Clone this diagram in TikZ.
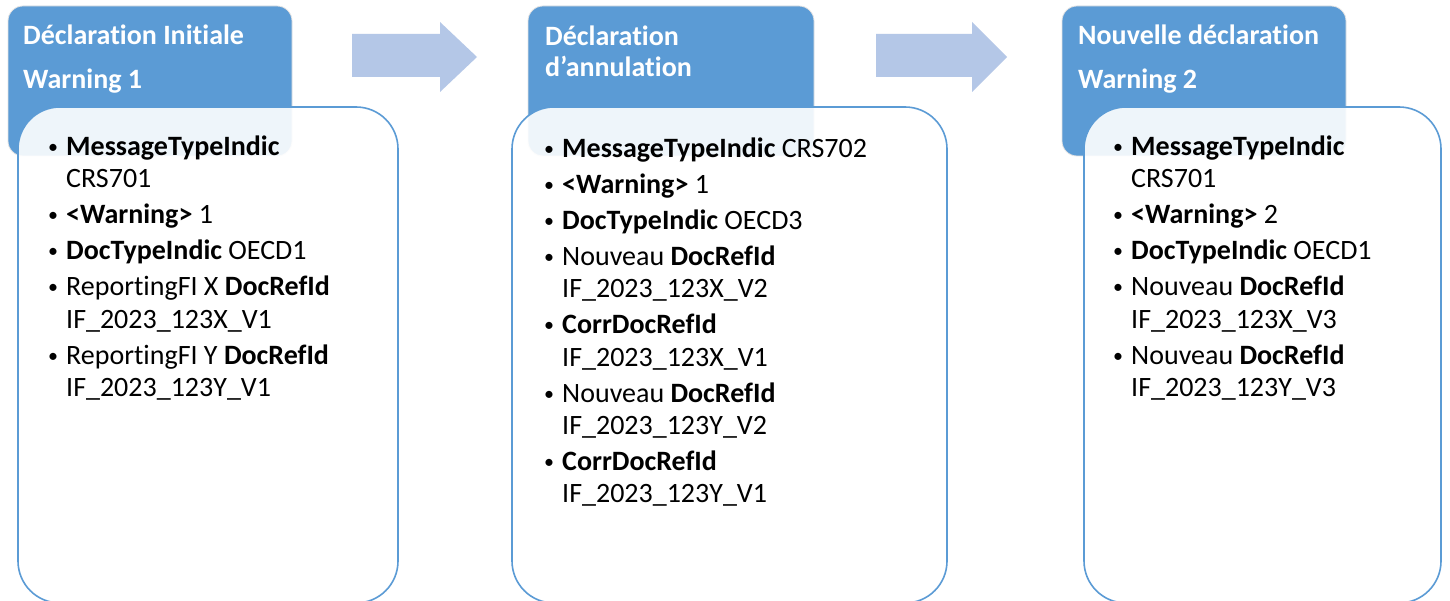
\documentclass[tikz,border=0pt]{standalone}
\usepackage{fontspec}
\setmainfont{Carlito}[Ligatures={NoCommon}]
\definecolor{hdr}{HTML}{5B9BD5}
\definecolor{arr}{HTML}{B4C7E7}
\definecolor{bord}{HTML}{5B9BD5}
\newcommand{\mybul}[4]{%
  \node[bul] (#1b) at (#2-13,#3) {\textbullet};
  \node[txt] (#1) at (#2,#3) {#4};}
\newcommand{\mycont}[4]{%
  \node[txt] (#1) at (#2,#3) {#4};}
\begin{document}
\begin{tikzpicture}[x=1pt,y=-1pt,
  hdrbox/.style={draw=gray!22, line width=0.8pt, fill=hdr, rounded corners=15pt,
    inner sep=0pt, outer sep=0pt, anchor=north west},
  bodybox/.style={draw=bord, line width=1.6pt, fill=white, fill opacity=0.9,
    rounded corners=42pt, inner sep=0pt, outer sep=0pt, anchor=north west},
  txt/.style={anchor=base west, inner sep=0pt, font=\fontsize{28}{32}\selectfont, text=black},
  bul/.style={anchor=base, inner sep=0pt, yshift=2pt, font=\fontsize{20}{24}\selectfont, text=black},
  hdrtxt/.style={anchor=base west, inner sep=0pt, font=\fontsize{28}{32}\selectfont\bfseries, text=white},
  arrowshape/.style={fill=arr}
]
\useasboundingbox (0,0) rectangle (1450,601);
\fill[white] (0,0) rectangle (1450,601);

% headers
\node[hdrbox, minimum width=284pt, minimum height=150pt] (h1) at (8,6) {};
\node[hdrbox, minimum width=286pt, minimum height=150pt] (h2) at (528,6) {};
\node[hdrbox, minimum width=284pt, minimum height=150pt] (h3) at (1062,6) {};

\node[hdrtxt] (h1a) at (23,45) {Déclaration Initiale};
\node[hdrtxt] (h1b) at (23,89) {Warning 1};
\node[hdrtxt] (h2a) at (545,46) {Déclaration};
\node[hdrtxt] (h2b) at (545,77) {d’annulation};
\node[hdrtxt] (h3a) at (1078,45) {Nouvelle déclaration};
\node[hdrtxt] (h3b) at (1078,89) {Warning 2};

% bodies
\node[bodybox, minimum width=380pt, minimum height=496pt] (b1) at (18,107) {};
\node[bodybox, minimum width=435pt, minimum height=496pt] (b2) at (512,107) {};
\node[bodybox, minimum width=357pt, minimum height=496pt] (b3) at (1084,107) {};

% arrows
\coordinate (a1s) at (352,34);
\coordinate (a2s) at (876,34);
\fill[arrowshape] (a1s) -- (440,34) -- (440,22) -- (477,57) -- (440,92) -- (440,77) -- (352,77) -- cycle;
\fill[arrowshape] (a2s) -- (972,34) -- (972,22) -- (1007,57) -- (972,92) -- (972,77) -- (876,77) -- cycle;

% body 1
\mybul{t1a}{66}{156}{\textbf{MessageTypeIndic}}
\mycont{t1a2}{66}{188}{CRS701}
\mybul{t1b}{66}{224}{\textbf{<Warning>} 1}
\mybul{t1c}{66}{260}{\textbf{DocTypeIndic} OECD1}
\mybul{t1d}{66}{296}{ReportingFI X \textbf{DocRefId}}
\mycont{t1d2}{66}{328}{IF\_2023\_123X\_V1}
\mybul{t1e}{66}{364}{ReportingFI Y \textbf{DocRefId}}
\mycont{t1e2}{66}{396}{IF\_2023\_123Y\_V1}

% body 2
\mybul{t2a}{562}{158}{\textbf{MessageTypeIndic} CRS702}
\mybul{t2b}{562}{194}{\textbf{<Warning>} 1}
\mybul{t2c}{562}{230}{\textbf{DocTypeIndic} OECD3}
\mybul{t2d}{562}{266}{Nouveau \textbf{DocRefId}}
\mycont{t2d2}{562}{298}{IF\_2023\_123X\_V2}
\mybul{t2e}{562}{334}{\textbf{CorrDocRefId}}
\mycont{t2e2}{562}{366}{IF\_2023\_123X\_V1}
\mybul{t2f}{562}{402}{Nouveau \textbf{DocRefId}}
\mycont{t2f2}{562}{434}{IF\_2023\_123Y\_V2}
\mybul{t2g}{562}{470}{\textbf{CorrDocRefId}}
\mycont{t2g2}{562}{502}{IF\_2023\_123Y\_V1}

% body 3
\mybul{t3a}{1131}{156}{\textbf{MessageTypeIndic}}
\mycont{t3a2}{1131}{188}{CRS701}
\mybul{t3b}{1131}{224}{\textbf{<Warning>} 2}
\mybul{t3c}{1131}{260}{\textbf{DocTypeIndic} OECD1}
\mybul{t3d}{1131}{296}{Nouveau \textbf{DocRefId}}
\mycont{t3d2}{1131}{328}{IF\_2023\_123X\_V3}
\mybul{t3e}{1131}{364}{Nouveau \textbf{DocRefId}}
\mycont{t3e2}{1131}{396}{IF\_2023\_123Y\_V3}
\end{tikzpicture}
\end{document}
